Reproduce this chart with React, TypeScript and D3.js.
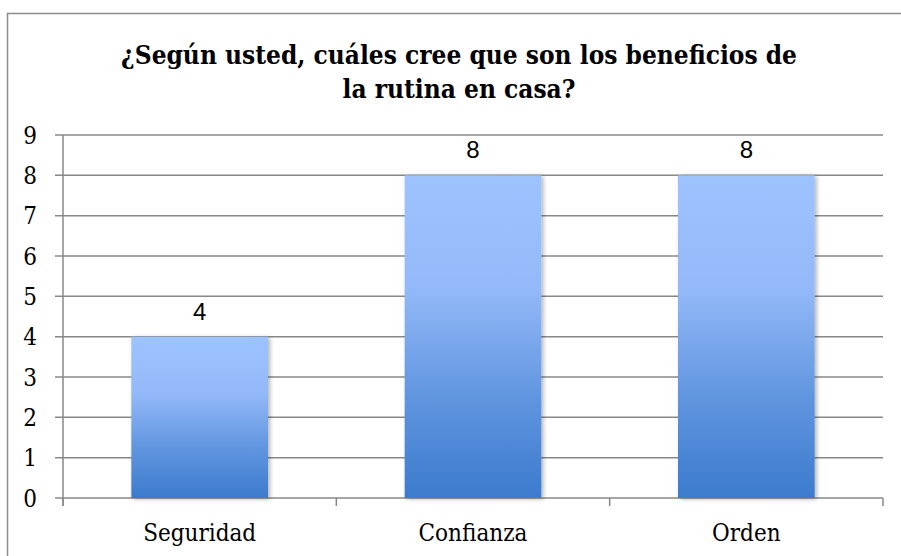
import React from 'react'
import * as d3 from 'd3'

const categories = ['Seguridad', 'Confianza', 'Orden']
const values = [4, 8, 8]
const yTicks = [0, 1, 2, 3, 4, 5, 6, 7, 8, 9]
const titleLines = ['¿Según usted, cuáles cree que son los beneficios de', 'la rutina en casa?']

const W = 901
const H = 556
const plot = { left: 63, right: 883, top: 135, bottom: 498 }

const serif = '"DejaVu Serif Condensed", "DejaVu Serif", serif'
const sans = '"Liberation Sans", Arial, sans-serif'

const App = () => {
  const x = d3.scaleBand()
    .domain(categories)
    .range([plot.left, plot.right])
    .paddingInner(0.5)
    .paddingOuter(0.25)

  const y = d3.scaleLinear()
    .domain([0, 9])
    .range([plot.bottom, plot.top])

  const edges = [plot.left, ...categories.map((c, i) => plot.left + (i + 1) * x.step())]

  return (
    <svg width={W} height={H} style={{ position: 'absolute', left: 0, top: 0 }}>
      <defs>
        <linearGradient id="barFill" x1="0" y1="0" x2="0" y2="1">
          <stop offset="0%" stopColor="#9dc3ff" />
          <stop offset="35%" stopColor="#93b9f8" />
          <stop offset="70%" stopColor="#5f94df" />
          <stop offset="100%" stopColor="#3c7bcd" />
        </linearGradient>
        <filter id="shadow" x="-10%" y="-10%" width="125%" height="125%">
          <feDropShadow dx="2" dy="1" stdDeviation="2" floodColor="#000" floodOpacity="0.3" />
        </filter>
      </defs>

      <rect x={0} y={0} width={W} height={H} fill="#fff" />
      <rect x={7.5} y={13.5} width={W + 20} height={H + 20} fill="none" stroke="#8c8c8c" strokeWidth={1.5} />

      {titleLines.map((t, i) => (
        <text key={i} x={459} y={64 + i * 34} textAnchor="middle"
          fontFamily={serif} fontWeight="bold" fontSize={26} fill="#000">{t}</text>
      ))}

      {/* gridlines + y ticks */}
      {yTicks.map(t => (
        <g key={t}>
          <line x1={plot.left - 8} x2={plot.right} y1={y(t)} y2={y(t)} stroke="#888" strokeWidth={1.5} />
          <text x={30} y={y(t)} dy="0.36em" textAnchor="middle"
            fontFamily={serif} fontSize={24} fill="#000">{t}</text>
        </g>
      ))}
      <line x1={plot.left} x2={plot.left} y1={plot.top} y2={plot.bottom + 8} stroke="#888" strokeWidth={1.5} />
      {edges.map((e, i) => (
        <line key={i} x1={e} x2={e} y1={plot.bottom} y2={plot.bottom + 8} stroke="#888" strokeWidth={1.5} />
      ))}

      {categories.map((c, i) => (
        <g key={c}>
          <rect x={x(c)} y={y(values[i])} width={x.bandwidth()} height={plot.bottom - y(values[i])}
            fill="url(#barFill)" filter="url(#shadow)" />
          <text x={x(c)! + x.bandwidth() / 2} y={y(values[i]) - 17} textAnchor="middle"
            fontFamily={sans} fontSize={24} fill="#000">{values[i]}</text>
          <text x={x(c)! + x.bandwidth() / 2} y={541} textAnchor="middle"
            fontFamily={serif} fontSize={24} fill="#000">{c}</text>
        </g>
      ))}
    </svg>
  )
}

export default App
